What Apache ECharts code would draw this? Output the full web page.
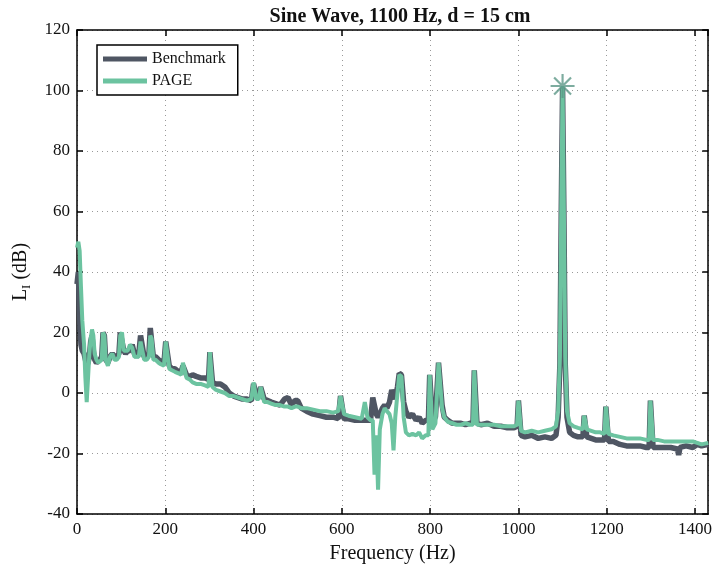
<!DOCTYPE html>
<html>
<head>
<meta charset="utf-8">
<script src="https://cdn.jsdelivr.net/npm/echarts@6/dist/echarts.min.js"></script>
<style>
  html, body { margin: 0; padding: 0; background: #fff; }
  #view { width: 715px; height: 572px; }
</style>
</head>
<body>
<div id="view"></div>
<script>
  // frequency (Hz) and levels (dB)
  var freq = [0, 3, 6, 9, 12, 16, 19, 22, 25, 28, 31, 34, 37, 40, 44, 48, 52, 56, 59, 62, 65, 70, 75, 80, 85, 90, 95, 98, 102, 106, 110, 115, 120, 125, 130, 135, 140, 144, 148, 152, 158, 163, 166, 169, 173, 178, 185, 190, 197, 201, 205, 209, 215, 222, 230, 236, 240, 244, 248, 255, 262, 270, 280, 290, 298, 301, 304, 307, 315, 325, 335, 345, 355, 365, 375, 385, 395, 400, 403, 406, 412, 416, 420, 424, 432, 440, 450, 460, 470, 478, 486, 494, 500, 508, 520, 535, 550, 565, 580, 592, 597, 601, 605, 615, 630, 645, 652, 655, 658, 665, 670, 674, 678, 682, 686, 692, 697, 702, 708, 713, 717, 721, 726, 730, 735, 740, 745, 752, 760, 768, 775, 782, 790, 796, 799, 802, 805, 812, 819, 823, 827, 832, 840, 850, 860, 870, 880, 890, 897, 900, 903, 906, 915, 930, 945, 960, 975, 990, 997, 1000, 1003, 1006, 1015, 1030, 1045, 1060, 1075, 1085, 1090, 1094, 1097, 1100, 1103, 1106, 1110, 1116, 1125, 1135, 1146, 1149, 1152, 1155, 1165, 1175, 1185, 1195, 1198, 1201, 1204, 1215, 1230, 1245, 1260, 1275, 1290, 1296, 1299, 1302, 1305, 1315, 1330, 1345, 1360, 1363, 1366, 1380, 1395, 1405, 1415, 1430];

  var benchmark = [36, 40, 25, 16, 14, 13, 11, 9, 10, 12, 17, 19, 14, 11, 10, 10, 11, 12, 20, 19, 11, 10, 12, 13, 12, 12, 13, 20, 20, 14, 13, 14, 14, 16, 13, 12, 13, 19, 19, 12, 12, 13, 21.5, 21, 12, 12, 11, 10.5, 10, 17, 17, 9, 8, 8, 7, 7, 9, 9, 6, 5.5, 6, 5.5, 5, 5, 4.5, 13.5, 13, 3.5, 3, 3, 2, 0, -1, -1.5, -2, -2, -2.5, 3, 3, -1, -1, 2, 2, -2, -2.5, -3, -3.5, -4, -2, -1.5, -4, -2.5, -2.5, -5, -6, -7, -7.5, -8, -8, -8.5, -1, -1, -8.5, -8.5, -9, -9, -9, -9, -9, -9, -1.5, -1.5, -7, -8, -7, -5, -4, -5, -3, 1, 1, -2, 2, 6.5, 6, -3, -6, -8, -7, -9, -8, -10, -9, -9, 6, 6, -9, -8, 10, 10, -4, -8, -9, -10, -10, -10, -10.5, -10, -10, 7.5, 7.5, -10, -10.5, -10, -11, -11, -11.5, -11.5, -11, -2.5, -2.5, -14, -14.5, -14, -15, -14.5, -15, -14, -8, 10, 60, 101, 60, 10, -8, -13, -14, -14.5, -14.5, -7.5, -7.5, -14.5, -15, -15.5, -15.5, -15.5, -4.5, -4.5, -16, -16, -17, -17.5, -17.5, -17.5, -18, -18, -2.5, -2.5, -18, -18, -18, -18, -18.5, -20.5, -18, -17.5, -18, -17, -17.5, -17];

  var page = [48, 50, 47, 35, 24, 16, 5, -3, 5, 13, 18, 21, 19, 13, 11, 10, 10, 11, 20, 19, 11, 9, 12, 13, 11, 11, 12, 19, 20, 14, 14, 14, 16, 15, 12, 12, 12, 17, 17, 11, 11, 12, 19, 18, 11, 11, 10, 9.5, 9, 17, 17, 8, 7.5, 7, 6.5, 6, 10, 10, 5, 4.5, 3.5, 3, 3, 2.5, 2, 13.5, 13, 2, 1, 0.5, 0, -1, -1, -1.5, -2, -2.5, -2, 3.5, 3, -2, -2, 2, 2, -3, -3, -3.5, -4, -4, -4.5, -4.5, -5, -4.5, -4.5, -5, -5, -5.5, -6, -6, -6.5, -6, -1, -1, -7, -7.5, -8, -8.5, -3, -3, -8, -9, -9, -27, -14, -32, -12, -7, -5, -6, -7, -10, -19, -8, 0, 6, 5.5, -8, -13, -14, -13.5, -14, -13, -15, -14, -14, 6, 6, -12, -10, 10, 9.5, -5, -8, -9.5, -10, -10.5, -10.5, -10, -10.5, -10.5, 7.5, 7.5, -10.5, -10.5, -10.5, -10.5, -11, -11, -11, -10.5, -2.5, -2.5, -12.5, -13, -12.5, -13, -12.5, -12, -11, -6, 12, 60, 101.5, 60, 12, -6, -10, -11, -11.5, -12, -7.5, -7.5, -12, -12.5, -13, -13, -13.5, -4.5, -4.5, -13.5, -14, -14.5, -15, -15, -15, -15.5, -15.5, -2.5, -2.5, -15.5, -15.5, -16, -16, -16, -16.5, -16, -16, -16, -16.5, -17, -16.5];

  function pairs(xs, ys) {
    return xs.map(function (x, i) { return [x, ys[i]]; });
  }

  // peak of the PAGE spectrum, marked with a star
  var peakIdx = page.indexOf(Math.max.apply(null, page));

  var font = 'Liberation Serif';
  var star = 'path://M-0.9,-10 L0.9,-10 L0.9,10 L-0.9,10 Z M-10,-0.9 L10,-0.9 L10,0.9 L-10,0.9 Z ' +
    'M-7.7,-6.4 L-6.4,-7.7 L7.7,6.4 L6.4,7.7 Z M6.4,-7.7 L7.7,-6.4 L-6.4,7.7 L-7.7,6.4 Z';

  var chart = echarts.init(document.getElementById('view'));

  var option = {
    animation: false,
    backgroundColor: '#fff',
    title: {
      text: 'Sine Wave, 1100 Hz, d = 15 cm',
      left: 395,
      textAlign: 'center',
      top: 2,
      textStyle: { fontFamily: font, fontSize: 20, fontWeight: 'bold', color: '#111' }
    },
    legend: {
      data: ['Benchmark', 'PAGE'],
      orient: 'vertical',
      left: 97,
      top: 45,
      padding: [6, 12, 6, 6],
      itemGap: 6,
      itemWidth: 44,
      itemHeight: 5,
      icon: 'rect',
      backgroundColor: '#fff',
      borderColor: '#000',
      borderWidth: 1.5,
      borderRadius: 0,
      textStyle: { fontFamily: font, fontSize: 16, color: '#111' }
    },
    grid: { left: 77, right: 3, top: 30, bottom: 58 },
    xAxis: [
      {
        type: 'value',
        min: 0, max: 1430, interval: 200,
        name: 'Frequency (Hz)',
        nameLocation: 'middle',
        nameGap: 30,
        nameTextStyle: { fontFamily: font, fontSize: 20, color: '#111' },
        axisLine: { onZero: false, lineStyle: { color: '#000', width: 1.5 } },
        axisTick: { inside: true, length: 6, lineStyle: { color: '#000', width: 1.5 } },
        axisLabel: {
          fontFamily: font, fontSize: 17, color: '#111', margin: 7, showMaxLabel: false,
          formatter: function (v) { return String(v); }
        },
        splitLine: { show: true, lineStyle: { color: '#999', type: [1, 4], width: 1 } }
      },
      {
        type: 'value', position: 'top',
        min: 0, max: 1430, interval: 200,
        axisLine: { onZero: false, lineStyle: { color: '#000', width: 1.5 } },
        axisTick: { inside: true, length: 6, lineStyle: { color: '#000', width: 1.5 } },
        axisLabel: { show: false },
        splitLine: { show: false }
      }
    ],
    yAxis: [
      {
        type: 'value',
        min: -40, max: 120, interval: 20,
        name: '{a|L}{b|I}{a| (dB)}',
        nameLocation: 'middle',
        nameGap: 44,
        nameRotate: 90,
        nameTextStyle: {
          color: '#111',
          rich: {
            a: { fontFamily: font, fontSize: 20, color: '#111', lineHeight: 24 },
            b: { fontFamily: font, fontSize: 13, color: '#111', lineHeight: 24, verticalAlign: 'bottom', padding: [11, 0, 0, 0] }
          }
        },
        axisLine: { onZero: false, lineStyle: { color: '#000', width: 1.5 } },
        axisTick: { inside: true, length: 6, lineStyle: { color: '#000', width: 1.5 } },
        axisLabel: { fontFamily: font, fontSize: 17, color: '#111', margin: 7 },
        splitLine: { show: true, lineStyle: { color: '#999', type: [1, 4], width: 1 } }
      },
      {
        type: 'value', position: 'right',
        min: -40, max: 120, interval: 20,
        axisLine: { onZero: false, lineStyle: { color: '#000', width: 1.5 } },
        axisTick: { inside: true, length: 6, lineStyle: { color: '#000', width: 1.5 } },
        axisLabel: { show: false },
        splitLine: { show: false }
      }
    ],
    series: [
      {
        name: 'Benchmark',
        type: 'line',
        data: pairs(freq, benchmark),
        showSymbol: false,
        color: '#4f5663',
        lineStyle: { width: 5.5, color: '#4f5663' }
      },
      {
        name: 'PAGE',
        type: 'line',
        data: pairs(freq, page),
        showSymbol: false,
        color: '#6cc3a0',
        lineStyle: { width: 4, color: '#6cc3a0' }
      },
      {
        name: 'peak',
        type: 'scatter',
        data: [[freq[peakIdx], page[peakIdx]]],
        symbol: star,
        symbolSize: 24,
        itemStyle: { color: '#5c9787' },
        z: 5
      }
    ]
  };

  chart.setOption(option);
</script>
</body>
</html>
